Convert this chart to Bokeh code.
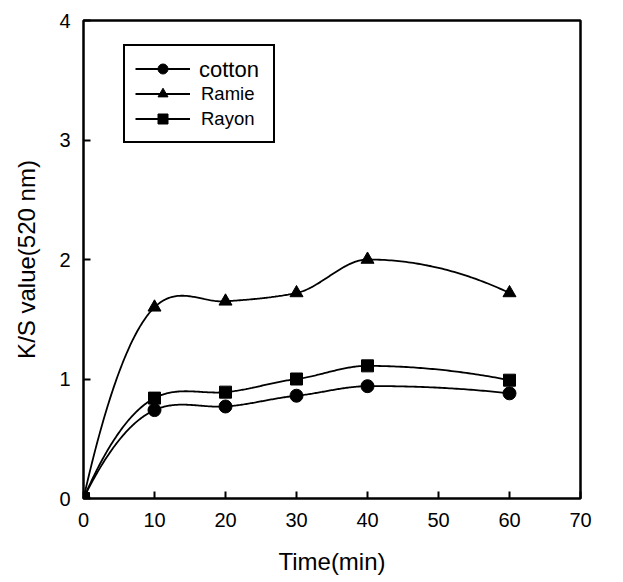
import numpy as np
from bokeh.plotting import figure
from bokeh.models import FixedTicker, Legend, LegendItem, Range1d
from bokeh.embed import file_html
from bokeh.resources import INLINE

time_min = [0, 10, 20, 30, 40, 60]
cotton = [0.0, 0.74, 0.77, 0.86, 0.94, 0.88]
ramie = [0.0, 1.60, 1.65, 1.72, 2.00, 1.72]
rayon = [0.0, 0.84, 0.89, 1.00, 1.11, 0.99]
x_ticks = [0, 10, 20, 30, 40, 50, 60, 70]
y_ticks = [0, 1, 2, 3, 4]
x_title = "Time(min)"
y_title = "K/S value(520 nm)"


def smooth(xs, ys, t=0.7, n=60):
    """Cardinal (Catmull-Rom style) Hermite curve through the points."""
    xs = np.asarray(xs, float)
    ys = np.asarray(ys, float)
    k = len(xs)
    m = np.zeros(k)
    for i in range(1, k - 1):
        m[i] = t * (ys[i + 1] - ys[i - 1]) / (xs[i + 1] - xs[i - 1])
    m[0] = 2 * (ys[1] - ys[0]) / (xs[1] - xs[0]) - m[1]
    m[-1] = 2 * (ys[-1] - ys[-2]) / (xs[-1] - xs[-2]) - m[-2]
    out_x, out_y = [], []
    for i in range(k - 1):
        h = xs[i + 1] - xs[i]
        s = np.linspace(0, 1, n)
        h00 = 2 * s**3 - 3 * s**2 + 1
        h10 = s**3 - 2 * s**2 + s
        h01 = -2 * s**3 + 3 * s**2
        h11 = s**3 - s**2
        out_x.extend(xs[i] + s * h)
        out_y.extend(h00 * ys[i] + h10 * h * m[i] + h01 * ys[i + 1] + h11 * h * m[i + 1])
    return out_x, out_y


FONT = "Liberation Sans"

p = figure(width=615, height=578, output_backend="svg", toolbar_location=None,
           x_range=Range1d(0, 70), y_range=Range1d(0, 4),
           min_border_left=83, min_border_right=35, min_border_top=20, min_border_bottom=80)
p.grid.visible = False
p.outline_line_color = "black"
p.outline_line_width = 2.5
p.outline_line_alpha = 1.0
p.background_fill_color = "white"
p.border_fill_color = "white"

for ax in (p.xaxis[0], p.yaxis[0]):
    ax.axis_line_color = None
    ax.major_tick_in = 7
    ax.major_tick_out = 0
    ax.major_tick_line_width = 2
    ax.major_tick_line_color = "black"
    ax.minor_tick_line_color = None
    ax.major_label_text_font = FONT
    ax.major_label_text_font_size = "20px"
    ax.major_label_text_color = "black"
    ax.axis_label_text_font = FONT
    ax.axis_label_text_font_size = "24px"
    ax.axis_label_text_font_style = "normal"
    ax.axis_label_text_color = "black"

p.xaxis.ticker = FixedTicker(ticks=x_ticks)
p.yaxis.ticker = FixedTicker(ticks=y_ticks)
p.xaxis.axis_label = x_title
p.yaxis.axis_label = y_title
p.xaxis.major_label_standoff = 14
p.yaxis.major_label_standoff = 13
p.xaxis.axis_label_standoff = 18
p.yaxis.axis_label_standoff = 16

lw = 1.8
items = []
for name, ys, marker, size in [("cotton", cotton, "circle", 13),
                               ("Ramie", ramie, "triangle", 13),
                               ("Rayon", rayon, "square", 12)]:
    xx, yy = smooth(time_min, ys)
    ln = p.line(xx, yy, line_color="black", line_width=lw)
    mk = p.scatter(time_min, ys, marker=marker, size=size, fill_color="black", line_color="black")
    items.append(LegendItem(label=" " if name == "cotton" else name, renderers=[ln, mk]))

legend = Legend(items=items, location=(40, 355), orientation="vertical",
                border_line_color="black", border_line_width=2.5, border_line_alpha=1.0,
                background_fill_alpha=1.0, padding=10, margin=0, spacing=0,
                glyph_width=55, glyph_height=25, label_height=20, label_width=62,
                label_standoff=11, label_text_font=FONT, label_text_font_size="18.5px",
                label_text_color="black")
p.add_layout(legend, "center")

# larger "cotton" label drawn over the first legend row (as in the original)
ghost = p.scatter(x=[], y=[], fill_alpha=0, line_alpha=0)
legend2 = Legend(items=[LegendItem(label="cotton", renderers=[ghost])], location=(0, 415),
                 border_line_color=None, background_fill_alpha=0, padding=0, margin=0,
                 glyph_width=100, glyph_height=24, label_height=24, label_standoff=16,
                 label_text_font=FONT, label_text_font_size="22px", label_text_color="black",
                 level="overlay")
p.add_layout(legend2, "center")

open("out.html", "w").write(file_html(p, INLINE))
